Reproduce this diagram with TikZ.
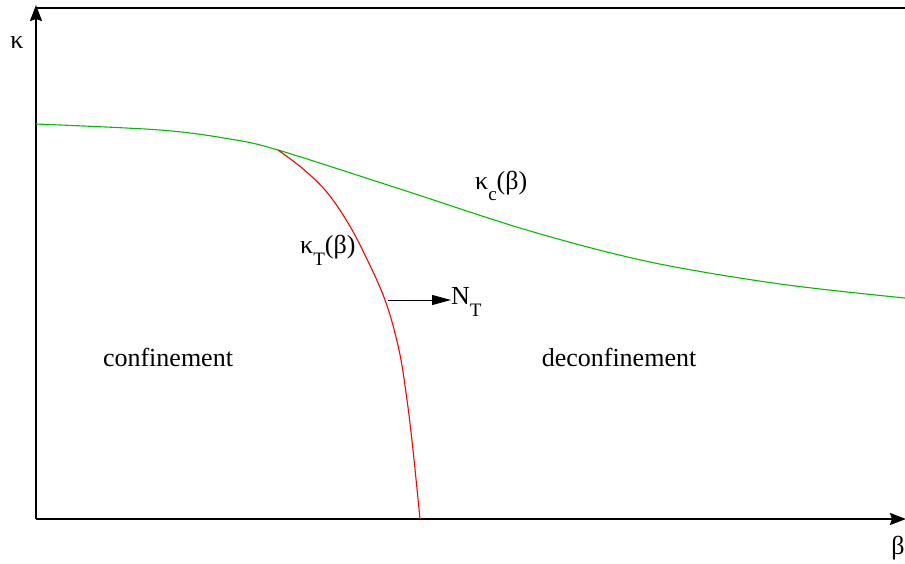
\documentclass[tikz,border=0pt]{standalone}
\usepackage{fontspec}
\setmainfont{Liberation Serif}
\usetikzlibrary{arrows.meta}
\newcommand{\lowsub}[1]{\raisebox{-0.45em}{\fontsize{19}{20}\selectfont #1}}
\begin{document}
\begin{tikzpicture}[x=1pt,y=-1pt,
  axis/.style={line width=2pt,-{Stealth[length=16pt,width=12pt,inset=2pt]}},
  lbl/.style={font=\fontsize{26}{30}\selectfont,inner sep=0pt},
  greencurve/.style={draw={rgb,255:red,0;green,190;blue,0},line width=1.1pt},
  redcurve/.style={draw={rgb,255:red,255;green,0;blue,0},line width=1.1pt}]
\useasboundingbox (0,0) rectangle (905,563);
\coordinate (O) at (36,519);
\coordinate (Ytop) at (36,5);
\coordinate (Xend) at (906,519);
\coordinate (TR) at (905,8);
\draw[axis] (O) -- (Ytop);
\draw[axis] (O) -- (Xend);
\draw[line width=2pt] (36,8) -- (TR);
% green curve kappa_c
\draw[greencurve] plot[smooth,tension=0.55] coordinates {(36,124) (160,130) (230,139) (278,150) (400,189) (530,231) (650,262) (780,284) (905,298)};
% red curve kappa_T
\draw[redcurve] plot[smooth,tension=0.6] coordinates {(278,150) (302,168) (325,190) (345,218) (363,251) (385,300) (399,350) (407,400) (413,450) (420,519)};
\node[lbl] (kap) at (17,43) {κ};
\node[lbl] (bet) at (898,548) {β};
\node[lbl] (conf) at (168,357) {confinement};
\node[lbl] (deconf) at (619,357) {deconfinement};
\node[lbl,anchor=west] (kc) at (475,186) {κ\lowsub{c}(β)};
\node[lbl,anchor=west] (kt) at (300,250) {κ\lowsub{T}(β)};
\coordinate (arrS) at (388,300);
\coordinate (arrE) at (451,300);
\node[lbl,anchor=west] (nt) at (451,302) {N\lowsub{T}};
\draw[line width=1pt,-{Triangle[length=19pt,width=10pt]}] (arrS) -- (arrE);
\end{tikzpicture}
\end{document}
